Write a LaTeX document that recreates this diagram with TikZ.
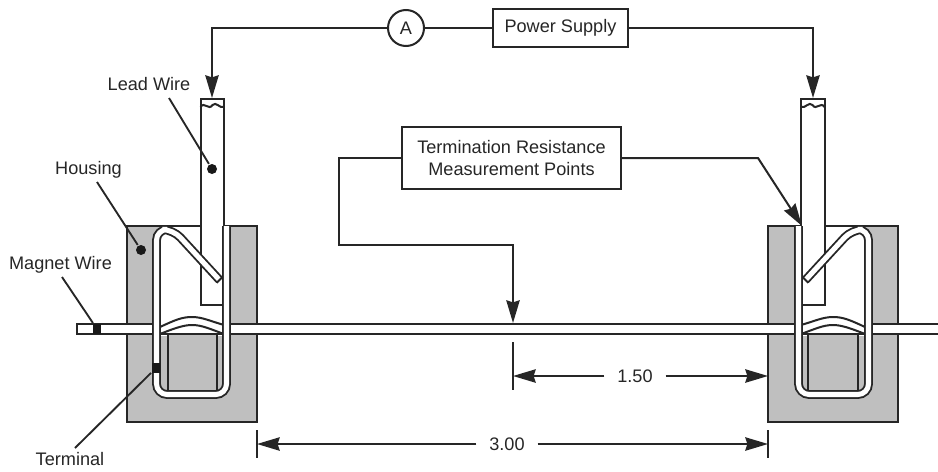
\documentclass[tikz,border=0pt]{standalone}
\usepackage{fontspec}
\setmainfont{Liberation Sans}
\usetikzlibrary{arrows.meta}

\newcommand{\assembly}{%
    % Inside of the terminal
    \fill[white] (160,227) rectangle (224,336);
    \draw[housing] (167.5,333.5) -- (167.5,391) -- (217,391) -- (217,333.5) -- cycle;
    \draw (160,334) -- (224,334);
    % Wire bump
    \draw (160,327) .. controls (175,320) and (182,317) .. (192,317) .. controls (202,317) and (210,321) .. (224,325);
    \draw (160,334) .. controls (175,328) and (184,325) .. (192,325) .. controls (202,325) and (210,329) .. (224,334);
    % Lead wire
    \draw[fill=white] (200.5,99) rectangle (224,305);
    \draw (200.5,107) .. controls (204,101) and (209,111) .. (212.5,105) .. controls (216,101) and (220,109) .. (224,107);
    % Terminal
    \draw[strip] (219.5,280) -- (173,229.5) -- (156.5,229.5) -- (156.5,394.5) -- (226.5,394.5) -- (226.5,226);
    \draw (216.6,282.8) -- (222.4,277.2);
}

\begin{document}
\begin{tikzpicture}[
    x=0.75pt, y=-0.75pt,
    color=black!85, line width=1.5pt,
    font=\fontsize{13.6pt}{16.5pt}\selectfont,
    arrow/.style={-{Stealth[length=17pt,width=10pt,inset=1.5pt]}},
    leader/.style={line width=1.4pt},
    label/.style={inner sep=0pt},
    dot/.style={circle, fill=black!90, inner sep=0pt, minimum size=7.5pt},
    sqdot/.style={rectangle, fill=black!90, inner sep=0pt, minimum width=6pt, minimum height=7.5pt},
    box/.style={rectangle, draw, fill=white, align=center, inner sep=0pt},
    dim/.style={inner sep=9pt},
    housing/.style={draw, fill=black!25},
    strip/.style={line width=1.4pt, double=white, double distance=3.8pt, rounded corners=8pt}
]
\useasboundingbox (0,0) rectangle (938,471);

% Housings and magnet wire
\draw[housing] (127,226) rectangle (257,422);
\draw[housing] (768,226) rectangle (898,422);
\draw[fill=white] (938,324) -- (77,324) -- (77,334) -- (938,334);

% Left and right assemblies
\begin{scope}
    \assembly
\end{scope}
\begin{scope}[shift={(1025,0)}, xscale=-1]
    \assembly
\end{scope}

% Circuit
\node[circle, draw, fill=white, minimum size=27pt, inner sep=0pt] (ammeter) at (406,28) {A};
\node[box, minimum width=101pt, minimum height=29pt] (supply) at (560.5,28) {Power Supply};
\coordinate (leadleft) at (212,98);
\coordinate (leadright) at (813,98);
\draw[arrow] (ammeter.west) -| (leadleft);
\draw (ammeter) -- (supply);
\draw[arrow] (supply.east) -| (leadright);

% Measurement points
\node[box, minimum width=164pt, minimum height=46.5pt] (points) at (511.5,158) {Termination Resistance\\Measurement Points};
\coordinate (kneeleft) at (339,245);
\coordinate (midwire) at (513,323);
\coordinate (kneeright) at (758,158);
\coordinate (tipright) at (802,226);
\draw[arrow] (points.west) -| (kneeleft) -| (midwire);
\draw[arrow] (points.east) -- (kneeright) -- (tipright);

% Labels
\node[label] (leadlabel) at (149,84) {Lead Wire};
\node[label] (houselabel) at (88.5,170) {Housing};
\node[label] (magnetlabel) at (60.5,265) {Magnet Wire};
\node[label] (termlabel) at (70,459) {Terminal};
\node[dot] (leaddot) at (212,169) {};
\node[dot] (housedot) at (141,250) {};
\node[sqdot] (magnetdot) at (97,329) {};
\node[sqdot] (termdot) at (156,368) {};
\coordinate (leadstart) at (169,98);
\coordinate (housestart) at (97,182);
\coordinate (magnetstart) at (62,277);
\coordinate (termstart) at (75,448);
\draw[leader] (leadstart) -- (leaddot);
\draw[leader] (housestart) -- (housedot);
\draw[leader] (magnetstart) -- (magnetdot);
\draw[leader] (termstart) -- (termdot);

% Dimensions
\node[dim] (half) at (635,376) {1.50};
\node[dim] (full) at (507,444) {3.00};
\coordinate (halfleft) at (513,376);
\coordinate (halfright) at (768,376);
\coordinate (fullleft) at (257,444);
\coordinate (fullright) at (768,444);
\draw[arrow] (half) -- (halfleft);
\draw[arrow] (half) -- (halfright);
\draw[arrow] (full) -- (fullleft);
\draw[arrow] (full) -- (fullright);
\draw (halfleft) +(0,-34) -- +(0,14);
\draw (fullleft) +(0,-14) -- +(0,14);
\draw (fullright) +(0,-14) -- +(0,14);
\end{tikzpicture}
\end{document}
